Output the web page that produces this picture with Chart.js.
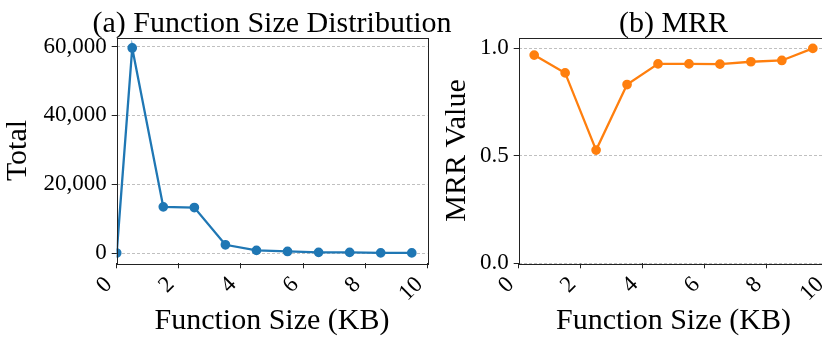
<!DOCTYPE html>
<html>
<head>
<meta charset="utf-8">
<script src="https://cdn.jsdelivr.net/npm/chart.js@4.4.1/dist/chart.umd.min.js"></script>
<style>
    html, body { margin: 0; padding: 0; background: #fff; width: 822px; height: 339px; overflow: hidden; }
    .panel { position: absolute; top: 0; height: 339px; }
    #sizePanel { left: 0; width: 544px; }
    #mrrPanel { left: 430px; width: 487px; }
</style>
</head>
<body>
<div class="panel" id="sizePanel"><canvas id="sizeChart"></canvas></div>
<div class="panel" id="mrrPanel"><canvas id="mrrChart"></canvas></div>
<script>
// (a) function size distribution
const sizeX = [0, 0.5, 1.5, 2.5, 3.5, 4.5, 5.5, 6.5, 7.5, 8.5, 9.5];
const sizeTotal = [0, 59600, 13420, 13220, 2400, 760, 460, 200, 180, 60, 30];
const sizeTicks = [0, 20000, 40000, 60000];

// (b) MRR
const mrrX = [0.5, 1.5, 2.5, 3.5, 4.5, 5.5, 6.5, 7.5, 8.5, 9.5];
const mrrValue = [0.969, 0.886, 0.527, 0.832, 0.928, 0.928, 0.927, 0.938, 0.944, 1.0];
const mrrTicks = [0, 0.5, 1.0];

const xTicks = [0, 2, 4, 6, 8, 10];

const FONT = "'Liberation Serif', 'Times New Roman', serif";

// matplotlib-like box around the plot area, plus a title centred over it
const framePlugin = {
    id: 'frame',
    afterDraw(chart, args, opts) {
        const { ctx, chartArea: a } = chart;
        ctx.save();
        ctx.strokeStyle = '#222';
        ctx.lineWidth = 1;
        ctx.strokeRect(Math.round(a.left) + 0.5, Math.round(a.top) + 0.5,
            Math.round(a.right - a.left), Math.round(a.bottom - a.top));
        ctx.fillStyle = '#000';
        ctx.font = '30px ' + FONT;
        ctx.textAlign = 'center';
        ctx.textBaseline = 'alphabetic';
        ctx.fillText(opts.text, (a.left + a.right) / 2, 31.5);
        ctx.restore();
    }
};

function buildChart(canvasId, cfg) {
    const points = cfg.xs.map((x, i) => ({ x: x, y: cfg.ys[i] }));
    return new Chart(document.getElementById(canvasId), {
        type: 'line',
        data: {
            datasets: [{
                data: points,
                borderColor: cfg.color,
                backgroundColor: cfg.color,
                borderWidth: 2.3,
                pointRadius: 3.7,
                pointHoverRadius: 3.7,
                tension: 0
            }]
        },
        options: {
            responsive: true,
            maintainAspectRatio: false,
            animation: false,
            layout: { padding: { left: 0, right: cfg.rightPad, top: 37.7, bottom: 0 } },
            plugins: {
                legend: { display: false },
                tooltip: { enabled: false },
                title: { display: false },
                frame: { text: cfg.title }
            },
            scales: {
                x: {
                    type: 'linear',
                    min: 0,
                    max: 10,
                    afterBuildTicks: scale => { scale.ticks = xTicks.map(v => ({ value: v })); },
                    afterFit: scale => { scale.height = 75.7; },
                    border: { display: false },
                    grid: {
                        drawOnChartArea: false,
                        drawTicks: true,
                        tickLength: 5,
                        tickColor: '#222',
                        tickWidth: 1
                    },
                    ticks: {
                        color: '#000',
                        font: { family: FONT, size: 23 },
                        minRotation: 45,
                        maxRotation: 45,
                        padding: 3,
                        labelOffset: -8,
                        callback: v => String(v)
                    },
                    title: {
                        display: true,
                        text: 'Function Size (KB)',
                        color: '#000',
                        font: { family: FONT, size: 30 },
                        padding: { top: 0, bottom: 0 }
                    }
                },
                y: {
                    type: 'linear',
                    min: cfg.yMin,
                    max: cfg.yMax,
                    afterBuildTicks: scale => { scale.ticks = cfg.yTicks.map(v => ({ value: v })); },
                    afterFit: scale => { scale.width = cfg.yWidth; },
                    border: { display: false, dash: [3, 2] },
                    grid: {
                        color: '#b0b0b0',
                        lineWidth: 0.8,
                        drawTicks: true,
                        tickLength: 5,
                        tickColor: '#222',
                        tickWidth: 1,
                        tickBorderDash: []
                    },
                    ticks: {
                        color: '#000',
                        font: { family: FONT, size: 23 },
                        padding: 5,
                        callback: cfg.tickFormat
                    },
                    title: {
                        display: true,
                        text: cfg.yTitle,
                        color: '#000',
                        font: { family: FONT, size: 30 },
                        padding: { top: cfg.yTitlePad, bottom: 0 }
                    }
                }
            }
        },
        plugins: [framePlugin]
    });
}

buildChart('sizeChart', {
    xs: sizeX,
    ys: sizeTotal,
    color: '#1f77b4',
    title: '(a) Function Size Distribution',
    yTitle: 'Total',
    yTicks: sizeTicks,
    yMin: -2980,
    yMax: 62580,
    yWidth: 116.7,
    yTitlePad: 0,
    rightPad: 116.7,
    tickFormat: v => v.toLocaleString('en-US')
});

buildChart('mrrChart', {
    xs: mrrX,
    ys: mrrValue,
    color: '#ff7f0e',
    title: '(b) MRR',
    yTitle: 'MRR Value',
    yTicks: mrrTicks,
    yMin: 0,
    yMax: 1.05,
    yWidth: 88.7,
    yTitlePad: 9,
    rightPad: 88.7,
    tickFormat: v => v.toFixed(1)
});
</script>
</body>
</html>
